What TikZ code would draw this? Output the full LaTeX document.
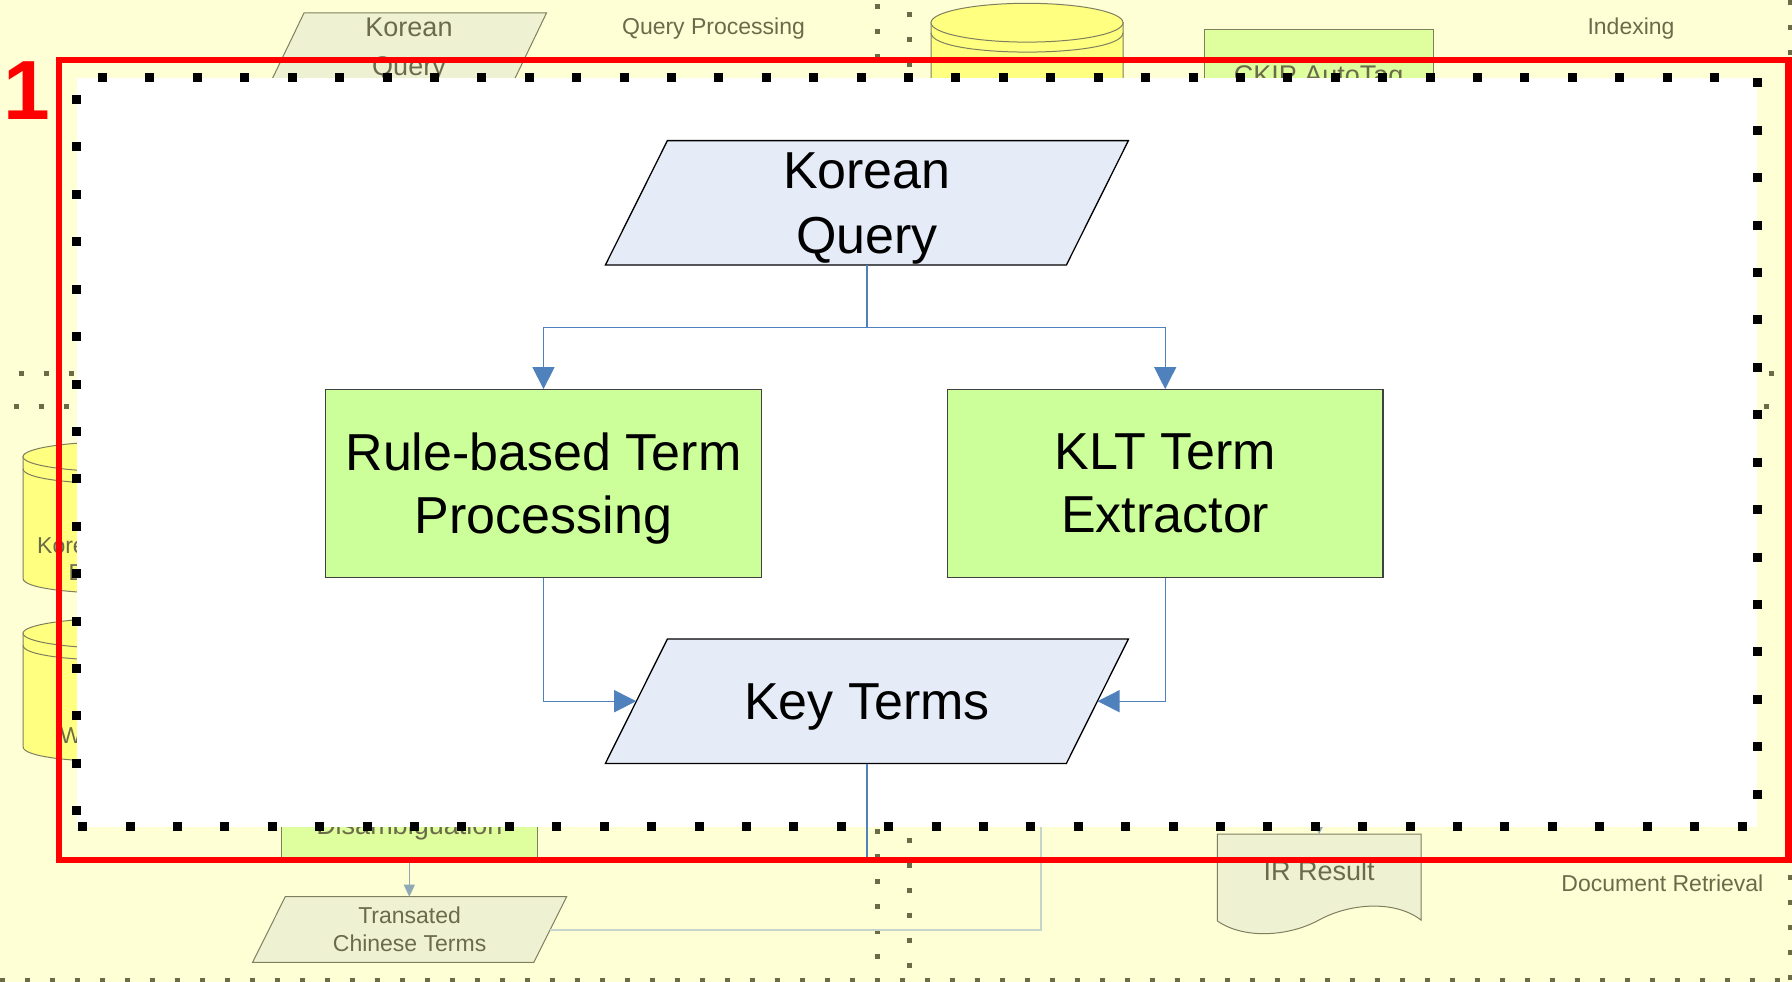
\documentclass[tikz,border=0pt]{standalone}
\usepackage{fontspec}
\setmainfont{Liberation Sans}
\usetikzlibrary{arrows.meta,calc}
\definecolor{bgyellow}{HTML}{FFFFD5}
\definecolor{fadetext}{HTML}{6B6B4B}
\definecolor{fadeline}{HTML}{7F7F5F}
\definecolor{fadegreen}{HTML}{DFFF9E}
\definecolor{fadepg}{HTML}{EEF2D3}
\definecolor{fadecyl}{HTML}{FFFF80}
\definecolor{fadeconn}{HTML}{8FAAB4}
\definecolor{fadeconnb}{HTML}{C5D5CC}
\definecolor{dotolive}{HTML}{6B6B47}
\definecolor{boxgreen}{HTML}{CCFF99}
\definecolor{pgblue}{HTML}{E5ECF7}
\definecolor{connblue}{HTML}{4F81BD}
\newcommand{\dbcyl}[6]{%
  \filldraw[fadeshape, fill=fadecyl] ({#1-#2},#3) -- ({#1-#2},#6) .. controls ({#1-#2},{#6+1.333*#4}) and ({#1+#2},{#6+1.333*#4}) .. ({#1+#2},#6) -- ({#1+#2},#3) -- cycle;
  \filldraw[fadeshape, fill=fadecyl] (#1,#3) ellipse [x radius=#2, y radius=#4];
  \draw[fadeshape] ({#1-#2},{#3+#5}) .. controls ({#1-#2},{#3+#5+1.333*#4}) and ({#1+#2},{#3+#5+1.333*#4}) .. ({#1+#2},{#3+#5});
}
\tikzset{
  fadeshape/.style={draw=fadeline, line width=1pt},
  fadetxt/.style={text=fadetext, inner sep=0pt},
  fadesmall/.style={fadetxt, font=\fontsize{23}{27}\selectfont},
  fadelarge/.style={fadetxt, font=\fontsize{27}{32}\selectfont},
  olivedots/.style={draw=dotolive, line width=5pt, dash pattern=on 5pt off 20pt},
  bigdots/.style={draw=black, line width=9pt, dash pattern=on 9pt off 38.41pt, dash phase=36.1pt},
  conn/.style={draw=connblue, line width=1.3pt},
  connarrow/.style={conn, -{Triangle[length=22pt,width=22pt]}},
  gbox/.style={draw=black!75, line width=1.3pt, fill=boxgreen, minimum width=435.5pt, minimum height=187.5pt, inner sep=0pt, align=center, text depth=0pt, font=\fontsize{52}{63}\selectfont},
  pgtext/.style={minimum width=461pt, minimum height=124.4pt, inner sep=0pt, align=center, text depth=0pt, font=\fontsize{52}{65}\selectfont},
  pgshape/.style={draw=black, line width=1.3pt, fill=pgblue},
  fadearrow/.style={draw=fadeconn, line width=1pt, -{Triangle[length=12pt,width=11pt]}},
}
\begin{document}
\begin{tikzpicture}[x=1pt,y=-1pt]
\useasboundingbox (0,0) rectangle (1792,982);
\fill[bgyellow] (0,0) rectangle (1792,982);
% faded separators
\draw[olivedots, dash phase=6.5pt] (0,373) -- (1792,373);
\draw[olivedots, dash phase=11.5pt] (0,406) -- (1792,406);
\draw[olivedots, dash phase=20.8pt] (877,0) -- (877,982);
\draw[olivedots, dash phase=12.5pt] (909,0) -- (909,982);
\draw[olivedots] (0,980) -- (1792,980);
\draw[olivedots] (1790,0) -- (1790,982);
% faded query processing panel
\filldraw[fadeshape, fill=fadepg] (271.7,80) -- (514.2,80) -- (546.5,13) -- (304,13) -- cycle;
\node[fadelarge, anchor=base] (fkq1) at (409,37) {Korean};
\node[fadelarge, anchor=base] (fkq2) at (409,76) {Query};
\node[fadesmall, anchor=base] (fqp) at (713.5,34.5) {Query Processing};
% faded indexing panel
\dbcyl{1027}{96}{22.7}{19.4}{10}{140}
\filldraw[fadeshape, fill=fadegreen] (1204,29.3) rectangle (1433,140);
\node[fadelarge, anchor=base] (fckip) at (1318.6,84.3) {CKIP AutoTag};
\node[fadesmall, anchor=base] (fidx) at (1631,34.5) {Indexing};
% faded left cylinders
\dbcyl{119.5}{96.5}{456.7}{15}{12}{578.3}
\node[fadesmall, anchor=base west] (fcyla) at (37,553) {Kore};
\node[fadesmall, anchor=base west] (fcylb) at (68.4,580) {D};
\dbcyl{119.5}{96.5}{633.3}{15}{12}{746.7}
\node[fadesmall, anchor=base west] (fcylc) at (60,743) {W};
% faded disambiguation / translated terms
\filldraw[fadeshape, fill=fadegreen] (281.3,740) rectangle (537.3,857.3);
\node[fadelarge, anchor=base] (fdis) at (409.3,834) {Disambiguation};
\filldraw[fadeshape, fill=fadepg] (252.6,962.3) -- (533.9,962.3) -- (566.6,896.7) -- (285.3,896.7) -- cycle;
\node[fadesmall, anchor=base] (ftr1) at (409.6,923) {Transated};
\node[fadesmall, anchor=base] (ftr2) at (409.6,951.5) {Chinese Terms};
\coordinate (fdisb) at (409.3,857.3);
\coordinate (ftrt) at (409.3,896.7);
\draw[fadearrow] (fdisb) -- (ftrt);
\coordinate (ftrr) at (550,930);
\coordinate (fup) at (1041,790);
\draw[draw=fadeconnb, line width=1.5pt] (ftrr) -| (fup);
% faded IR result
\filldraw[fadeshape, fill=fadepg] (1217.4,834) -- (1421,834) -- (1421,920) .. controls (1395,900) and (1350,903) .. (1319,920) .. controls (1290,936) and (1245,940) .. (1217.4,921) -- cycle;
\node[fadelarge, anchor=base] (fir) at (1319.2,880) {IR Result};
\coordinate (firin) at (1319.2,790);
\coordinate (firtop) at (1319.2,834);
\draw[fadearrow, -{Triangle[length=8pt,width=8pt]}] (firin) -- (firtop);
\node[fadesmall, anchor=base] (fdr) at (1662.4,891) {Document Retrieval};
% zoomed white panel
\fill[white] (76.7,78) rectangle (1757,826.5);
\draw[bigdots] (76.7,826.5) -- (76.7,78) -- (1757,78) -- (1757,826.5) -- cycle;
% main diagram
\path[pgshape] (605.4,265) -- (1066.4,265) -- (1128.4,140.6) -- (667.4,140.6) -- cycle;
\node[pgtext] (kq) at (866.9,202.8) {Korean\\Query};
\node[gbox] (lb) at (543.5,483.5) {Rule-based Term\\Processing};
\node[gbox] (rb) at (1165.2,483.5) {KLT Term\\Extractor};
\path[pgshape] (605.4,763.4) -- (1066.4,763.4) -- (1128.4,639) -- (667.4,639) -- cycle;
\node[pgtext] (kt) at (866.9,701.2) {Key Terms};
\coordinate (split) at (866.9,327.3);
\draw[conn] (kq.south) -- (split);
\draw[connarrow] (split) -| (lb.north);
\draw[connarrow] (split) -| (rb.north);
\draw[connarrow] (lb.south) |- (kt.west);
\draw[connarrow] (rb.south) |- (kt.east);
\coordinate (ktdown) at (866.9,857);
\draw[conn] (kt.south) -- (ktdown);
% callout frame
\draw[red, line width=6.5pt] (59,60) rectangle (1788.5,860);
\node[text=red, font=\fontsize{84}{84}\selectfont\bfseries, inner sep=0pt, anchor=base west] (num) at (3.6,120) {1};
\end{tikzpicture}
\end{document}
